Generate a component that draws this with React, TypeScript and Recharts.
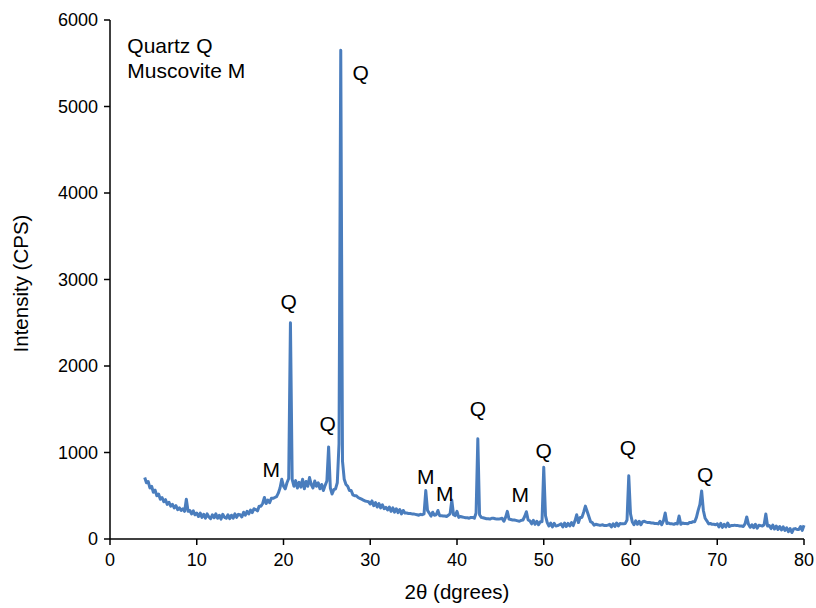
import React from 'react';
import { LineChart, Line, XAxis, YAxis, ReferenceDot } from 'recharts';

// XRD scan: starts at 4.0 deg 2theta, step 0.2 deg
const startAngle = 4.0;
const stepAngle = 0.2;

// intensities (CPS), one row per 2 degrees (10 steps)
const intensity: number[] = [
  710, 650, 665, 590, 610, 540, 565, 500, 520, 460, // 4.0
  480, 430, 455, 400, 425, 380, 400, 360, 385, 340, // 6.0
  360, 330, 350, 320, 460, 320, 330, 290, 325, 280, // 8.0
  300, 260, 300, 250, 285, 240, 290, 255, 235, 280, // 10.0
  245, 290, 240, 275, 230, 285, 250, 240, 280, 235, // 12.0
  275, 240, 290, 250, 285, 280, 255, 310, 275, 320, // 14.0
  290, 335, 305, 350, 340, 325, 380, 380, 410, 480, // 16.0
  410, 450, 420, 470, 470, 480, 490, 530, 590, 690, // 18.0
  610, 580, 650, 700, 2500, 690, 610, 675, 590, 655, // 20.0
  600, 690, 580, 665, 610, 710, 630, 590, 670, 610, // 22.0
  650, 580, 630, 560, 620, 670, 1065, 590, 520, 570, // 24.0
  580, 650, 1100, 5650, 900, 690, 630, 610, 560, 560, // 26.0
  510, 500, 500, 480, 470, 460, 450, 440, 435, 430, // 28.0
  405, 440, 385, 420, 370, 410, 360, 395, 350, 365, // 30.0
  335, 370, 320, 360, 310, 350, 305, 340, 290, 330, // 32.0
  300, 300, 295, 295, 290, 290, 285, 280, 275, 285, // 34.0
  280, 290, 560, 330, 300, 265, 310, 275, 280, 330, // 36.0
  270, 270, 265, 265, 260, 275, 290, 450, 280, 270, // 38.0
  320, 250, 260, 255, 250, 245, 245, 240, 250, 250, // 40.0
  240, 300, 1160, 280, 250, 245, 240, 235, 235, 230, // 42.0
  240, 240, 235, 230, 230, 235, 240, 205, 250, 320, // 44.0
  230, 225, 220, 220, 215, 210, 205, 215, 220, 260, // 46.0
  315, 220, 210, 175, 215, 170, 205, 165, 200, 200, // 48.0
  830, 270, 190, 150, 185, 140, 180, 150, 155, 165, // 50.0
  175, 140, 185, 145, 180, 150, 190, 155, 210, 280, // 52.0
  190, 250, 250, 310, 380, 320, 260, 200, 190, 160, // 54.0
  170, 165, 160, 160, 165, 155, 155, 160, 170, 140, // 56.0
  175, 145, 185, 150, 180, 175, 175, 180, 220, 730, // 58.0
  290, 200, 165, 210, 170, 205, 165, 200, 205, 195, // 60.0
  190, 190, 185, 185, 180, 180, 175, 205, 165, 210, // 62.0
  300, 180, 185, 175, 175, 170, 180, 175, 265, 170, // 64.0
  185, 180, 180, 175, 190, 190, 200, 200, 250, 330, // 66.0
  400, 555, 330, 240, 210, 175, 180, 170, 170, 165, // 68.0
  175, 140, 180, 135, 170, 140, 185, 145, 155, 155, // 70.0
  160, 155, 155, 150, 150, 145, 175, 255, 170, 135, // 72.0
  165, 130, 170, 125, 160, 155, 150, 165, 290, 150, // 74.0
  155, 120, 160, 115, 150, 110, 145, 105, 140, 100, // 76.0
  130, 85, 120, 75, 115, 120, 110, 110, 145, 100, // 78.0
  160, // 80.0
];

const xTicks = [0, 10, 20, 30, 40, 50, 60, 70, 80];
const yTicks = [0, 1000, 2000, 3000, 4000, 5000, 6000];

const peakLabels = [
  { x: 18.6, y: 800, text: 'M' },
  { x: 20.6, y: 2740, text: 'Q' },
  { x: 25.1, y: 1330, text: 'Q' },
  { x: 28.9, y: 5390, text: 'Q' },
  { x: 36.4, y: 720, text: 'M' },
  { x: 38.6, y: 530, text: 'M' },
  { x: 42.4, y: 1510, text: 'Q' },
  { x: 47.3, y: 510, text: 'M' },
  { x: 50.0, y: 1020, text: 'Q' },
  { x: 59.7, y: 1060, text: 'Q' },
  { x: 68.6, y: 750, text: 'Q' },
];

const legendNotes = [
  { x: 2.0, y: 5710, text: 'Quartz Q' },
  { x: 2.0, y: 5420, text: 'Muscovite M' },
];

const data = intensity.map((v, i) => ({
  angle: Math.round((startAngle + i * stepAngle) * 10) / 10,
  cps: v,
}));

const FONT = '"Liberation Sans", Arial, Helvetica, sans-serif';
const LINE_COLOR = '#4a7dbd';

export default function App() {
  return (
    <div style={{ position: 'absolute', left: 0, top: 0, width: 816, height: 608, background: '#fff' }}>
      <LineChart
        width={816}
        height={608}
        data={data}
        margin={{ top: 20, right: 12, bottom: 0, left: 0 }}
      >
        <XAxis
          dataKey="angle"
          type="number"
          domain={[0, 80]}
          ticks={xTicks}
          interval={0}
          height={69}
          axisLine={{ stroke: '#000', strokeWidth: 1.5 }}
          tickLine={{ stroke: '#000', strokeWidth: 1.5 }}
          tickSize={6}
          tickMargin={8}
          tick={{ fill: '#000', fontSize: 18, fontFamily: FONT }}
          label={{
            content: (props: any) => {
              const vb = props.viewBox;
              return (
                <text
                  x={vb.x + vb.width / 2}
                  y={vb.y + 60}
                  textAnchor="middle"
                  fill="#000"
                  fontSize={20.5}
                  fontFamily={FONT}
                >
                  2θ (dgrees)
                </text>
              );
            },
          }}
        />
        <YAxis
          type="number"
          domain={[0, 6000]}
          ticks={yTicks}
          interval={0}
          width={110}
          axisLine={{ stroke: '#000', strokeWidth: 1.5 }}
          tickLine={{ stroke: '#000', strokeWidth: 1.5 }}
          tickSize={6}
          tickMargin={6}
          tick={{ fill: '#000', fontSize: 18, fontFamily: FONT }}
          label={{
            content: (props: any) => {
              const vb = props.viewBox;
              const cx = vb.x + 28;
              const cy = vb.y + vb.height / 2 + 4;
              return (
                <text
                  x={cx}
                  y={cy}
                  transform={`rotate(-90 ${cx} ${cy})`}
                  textAnchor="middle"
                  fill="#000"
                  fontSize={20.5}
                  fontFamily={FONT}
                >
                  Intensity (CPS)
                </text>
              );
            },
          }}
        />
        <Line
          type="linear"
          dataKey="cps"
          stroke={LINE_COLOR}
          strokeWidth={3}
          strokeLinejoin="round"
          dot={false}
          isAnimationActive={false}
        />
        {peakLabels.map((p, i) => (
          <ReferenceDot
            key={'p' + i}
            x={p.x}
            y={p.y}
            r={0}
            fill="none"
            stroke="none"
            label={{ value: p.text, position: 'center', fill: '#000', fontSize: 21, fontFamily: FONT }}
          />
        ))}
        {legendNotes.map((p, i) => (
          <ReferenceDot
            key={'l' + i}
            x={p.x}
            y={p.y}
            r={0}
            fill="none"
            stroke="none"
            label={{ value: p.text, position: 'right', offset: 0, fill: '#000', fontSize: 21, fontFamily: FONT }}
          />
        ))}
      </LineChart>
    </div>
  );
}
